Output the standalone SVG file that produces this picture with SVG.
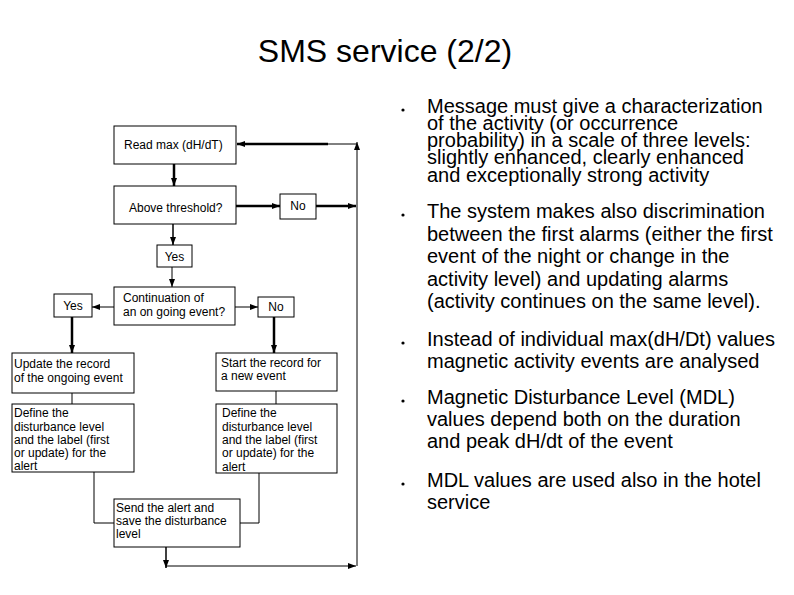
<svg xmlns="http://www.w3.org/2000/svg" width="794" height="595" viewBox="0 0 794 595">
<defs>
<marker id="ah" markerWidth="8" markerHeight="6" refX="8" refY="3" orient="auto" markerUnits="userSpaceOnUse">
<path d="M0,0 L8,3 L0,6 z" fill="#000"/>
</marker>
<style>
.box{fill:#fff;stroke:#000;stroke-width:1}
.t{font-family:"Liberation Sans",Arial,sans-serif;font-size:12px;fill:#000}
.tc{font-family:"Liberation Sans",Arial,sans-serif;font-size:12px;fill:#000;text-anchor:middle}
.b{font-family:"Liberation Sans",Arial,sans-serif;font-size:20px;fill:#000}
.thick{fill:none;stroke:#000;stroke-width:2.5}
.med{fill:none;stroke:#000;stroke-width:1.5}
.thin{fill:none;stroke:#000;stroke-width:1}
</style>
</defs>
<rect width="794" height="595" fill="#fff"/>
<text x="385" y="62" font-family="Liberation Sans,Arial,sans-serif" font-size="32" text-anchor="middle">SMS service (2/2)</text>

<g id="connectors">
<line class="thick" x1="174" y1="164" x2="174" y2="186" marker-end="url(#ah)"/>
<line class="thick" x1="236" y1="206" x2="280" y2="206" marker-end="url(#ah)"/>
<line class="thick" x1="316" y1="206" x2="356" y2="206" marker-end="url(#ah)"/>
<line class="med" x1="173" y1="224" x2="173" y2="245" marker-end="url(#ah)"/>
<line class="thin" x1="172" y1="267" x2="172" y2="287" marker-end="url(#ah)"/>
<line class="thin" x1="114" y1="307" x2="92" y2="307" marker-end="url(#ah)"/>
<line class="thin" x1="235" y1="307" x2="258" y2="307" marker-end="url(#ah)"/>
<line class="thick" x1="72" y1="317" x2="72" y2="353" marker-end="url(#ah)"/>
<line class="thick" x1="274" y1="317" x2="274" y2="353" marker-end="url(#ah)"/>
<line class="thin" x1="72" y1="393" x2="72" y2="404"/>
<line class="thin" x1="276" y1="391" x2="276" y2="404"/>
<polyline class="thin" points="94,472 94,523 114,523"/>
<polyline class="thin" points="259,473 259,523 240,523"/>
<line class="med" x1="166" y1="547" x2="166" y2="568" marker-end="url(#ah)"/>
<line class="thin" x1="166" y1="566" x2="356" y2="566" marker-end="url(#ah)"/>
<line class="thin" x1="357" y1="566" x2="357" y2="142" marker-end="url(#ah)"/>
<line class="thin" x1="357" y1="144" x2="328" y2="144"/>
<line class="thick" x1="328" y1="144" x2="237" y2="144" marker-end="url(#ah)"/>
</g>

<g id="read">
<rect class="box" x="114" y="126" width="122" height="38"/>
<text class="t" x="124" y="149">Read max (dH/dT)</text>
</g>
<g id="above">
<rect class="box" x="114" y="186" width="122" height="38"/>
<text class="t" x="129" y="212">Above threshold?</text>
</g>
<g id="no1">
<rect class="box" x="280" y="194" width="36" height="25"/>
<text class="tc" x="298" y="210">No</text>
</g>
<g id="yes1">
<rect class="box" x="157" y="245" width="35" height="22"/>
<text class="tc" x="174.5" y="261">Yes</text>
</g>
<g id="continuation">
<rect class="box" x="114" y="287" width="121" height="38"/>
<text class="t" x="123" y="302">Continuation of</text>
<text class="t" x="123" y="316">an on going event?</text>
</g>
<g id="yes2">
<rect class="box" x="54" y="294" width="38" height="23"/>
<text class="tc" x="73" y="310">Yes</text>
</g>
<g id="no2">
<rect class="box" x="258" y="297" width="36" height="20"/>
<text class="tc" x="276" y="311">No</text>
</g>
<g id="update">
<rect class="box" x="12" y="353" width="122" height="40"/>
<text class="t" x="14" y="368">Update the record</text>
<text class="t" x="14" y="382">of the ongoing event</text>
</g>
<g id="start">
<rect class="box" x="216" y="353" width="121" height="38"/>
<text class="t" x="221" y="367">Start the record for</text>
<text class="t" x="221" y="380">a new event</text>
</g>
<g id="define1">
<rect class="box" x="12" y="404" width="122" height="68"/>
<text class="t" x="14" y="417">Define the</text>
<text class="t" x="14" y="431">disturbance level</text>
<text class="t" x="14" y="444">and the label (first</text>
<text class="t" x="14" y="457">or update) for the</text>
<text class="t" x="14" y="470">alert</text>
</g>
<g id="define2">
<rect class="box" x="216" y="404" width="121" height="69"/>
<text class="t" x="222" y="417">Define the</text>
<text class="t" x="222" y="431">disturbance level</text>
<text class="t" x="222" y="444">and the label (first</text>
<text class="t" x="222" y="457">or update) for the</text>
<text class="t" x="222" y="471">alert</text>
</g>
<g id="send">
<rect class="box" x="114" y="499" width="126" height="48"/>
<text class="t" x="116" y="512">Send the alert and</text>
<text class="t" x="116" y="525">save the disturbance</text>
<text class="t" x="116" y="538">level</text>
</g>

<g id="bullets">
<circle cx="403" cy="110" r="1.6"/>
<text class="b" x="427" y="113">Message must give a characterization</text>
<text class="b" x="427" y="129.5">of the activity (or occurrence</text>
<text class="b" x="427" y="146.5">probability) in a scale of three levels:</text>
<text class="b" x="427" y="163.5">slightly enhanced, clearly enhanced</text>
<text class="b" x="427" y="182">and exceptionally strong activity</text>
<circle cx="403" cy="215" r="1.6"/>
<text class="b" x="427" y="218">The system makes also discrimination</text>
<text class="b" x="427" y="241">between the first alarms (either the first</text>
<text class="b" x="427" y="263">event of the night or change in the</text>
<text class="b" x="427" y="286">activity level) and updating alarms</text>
<text class="b" x="427" y="308">(activity continues on the same level).</text>
<circle cx="403" cy="343" r="1.6"/>
<text class="b" x="427" y="346">Instead of individual max(dH/Dt) values</text>
<text class="b" x="427" y="368">magnetic activity events are analysed</text>
<circle cx="403" cy="401" r="1.6"/>
<text class="b" x="427" y="404">Magnetic Disturbance Level (MDL)</text>
<text class="b" x="427" y="426">values depend both on the duration</text>
<text class="b" x="427" y="448">and peak dH/dt of the event</text>
<circle cx="403" cy="484" r="1.6"/>
<text class="b" x="427" y="487">MDL values are used also in the hotel</text>
<text class="b" x="427" y="509">service</text>
</g>
</svg>
